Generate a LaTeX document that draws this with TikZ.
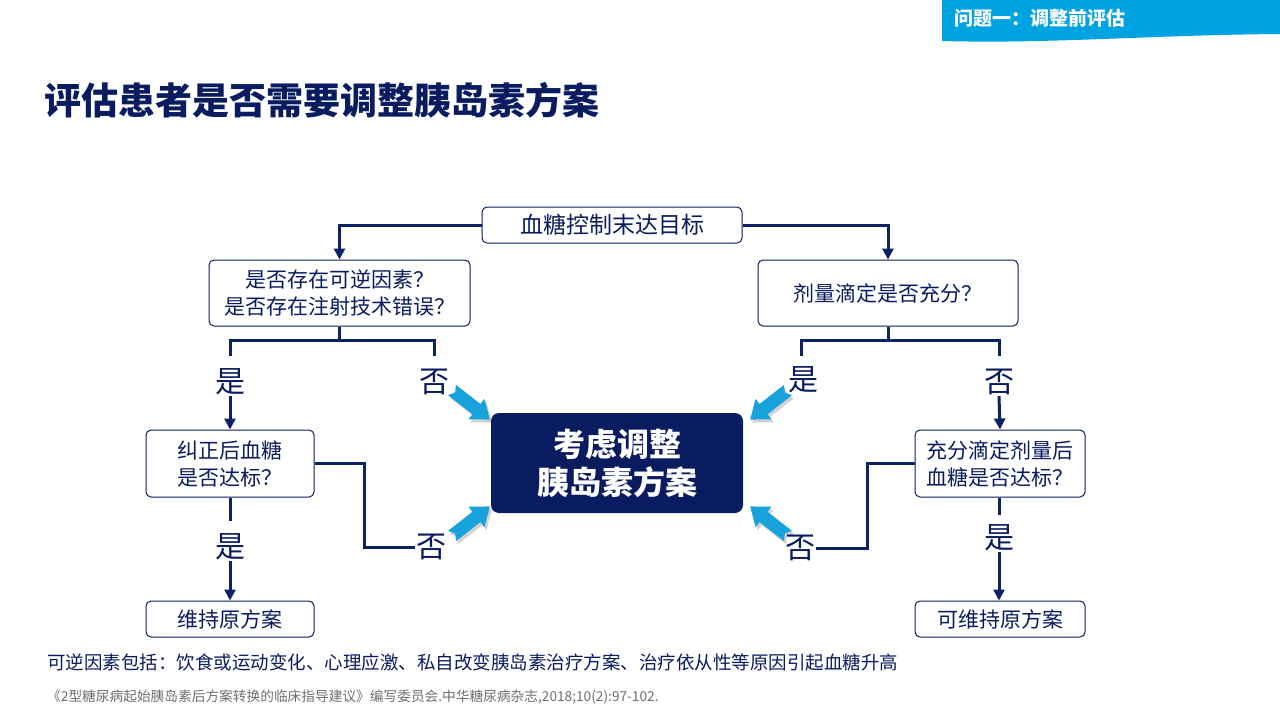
\documentclass[tikz,border=0pt]{standalone}
\usepackage{fontspec}
\setmainfont{Noto Sans CJK SC}
\usetikzlibrary{arrows.meta}
\definecolor{navy}{RGB}{10,28,96}
\definecolor{linec}{RGB}{12,34,100}
\definecolor{bannerblue}{RGB}{0,163,226}
\definecolor{arrowblue}{RGB}{24,162,220}
\definecolor{refgray}{RGB}{110,110,110}
\newcommand{\fs}[2]{\fontsize{#1}{#2}\selectfont}
\newcommand{\fatarrow}[3]{%
  \fill[black, opacity=0.18, shift={(#1+2,#2+3)}, rotate=#3]
    (0,6.5) -- (31,6.5) -- (31,13) -- (48,0) -- (31,-13) -- (31,-6.5) -- (0,-6.5) -- (4,0) -- cycle;
  \fill[arrowblue, shift={(#1,#2)}, rotate=#3]
    (0,6.5) -- (31,6.5) -- (31,13) -- (48,0) -- (31,-13) -- (31,-6.5) -- (0,-6.5) -- (4,0) -- cycle;}
\tikzset{
  box/.style={draw=navy, line width=1pt, rounded corners=5pt, fill=white, text=navy,
    align=center, inner sep=0pt, font=\fs{21}{27}},
  lbl/.style={text=navy, font=\fs{30}{30}, inner sep=1pt},
  conn/.style={draw=linec, line width=3pt},
  arr/.style={-{Triangle[width=11pt,length=11pt]}},
}
\begin{document}
\begin{tikzpicture}[x=1pt,y=-1pt]
\useasboundingbox (0,0) rectangle (1280,720);
% banner
\fill[bannerblue] (942,0) -- (1280,0) -- (1280,34) .. controls (1150,35) and (1050,44) .. (942,41) -- cycle;
\node[anchor=west, text=white, font=\fs{19}{19}\bfseries, inner sep=0pt] (banner) at (954,18) {问题一：调整前评估};
% title
\node[anchor=west, text=navy, font=\fs{37}{37}\bfseries, inner sep=0pt] (title) at (44,100) {评估患者是否需要调整胰岛素方案};
% boxes
\node[box, minimum width=260pt, minimum height=36pt, font=\fs{23}{27}] (top) at (612,225) {血糖控制末达目标};
\node[box, minimum width=261pt, minimum height=66pt] (L1) at (339.5,293) {是否存在可逆因素？\\是否存在注射技术错误？};
\node[box, minimum width=260pt, minimum height=66pt] (R1) at (888,293) {剂量滴定是否充分？};
\node[box, minimum width=168pt, minimum height=67pt] (L2) at (230,463.5) {纠正后血糖\\是否达标？};
\node[box, minimum width=170pt, minimum height=67pt] (R2) at (1000,463.5) {充分滴定剂量后\\血糖是否达标？};
\node[box, minimum width=168pt, minimum height=36pt] (L3) at (230,619) {维持原方案};
\node[box, minimum width=170pt, minimum height=36pt] (R3) at (1000,619) {可维持原方案};
\node[fill=navy, rounded corners=8pt, minimum width=252pt, minimum height=100pt, text=white,
  align=center, font=\fs{32}{38}\bfseries, inner sep=0pt] (C) at (617,463) {考虑调整\\胰岛素方案};
% labels
\node[lbl] (ly1) at (230,382) {是};
\node[lbl] (ln1) at (434,382) {否};
\node[lbl] (ry1) at (803,380) {是};
\node[lbl] (rn1) at (999,382) {否};
\node[lbl] (ly2) at (230,547) {是};
\node[lbl] (ln2) at (431,547) {否};
\node[lbl] (rn2) at (800,548) {否};
\node[lbl] (ry2) at (999,538) {是};
% connectors from top
\draw[conn, arr] (top.west) -| (L1.north);
\draw[conn, arr] (top.east) -| (R1.north);
% left split
\coordinate (lj) at (339.5,340);
\coordinate (lyT) at (230,356);
\coordinate (lnT) at (434,356);
\draw[conn] (L1.south) -- (lj);
\draw[conn] (lyT) |- (lj) -| (lnT);
% right split
\coordinate (rj) at (888,340);
\coordinate (ryT) at (801,356);
\coordinate (rnT) at (999,356);
\draw[conn] (R1.south) -- (rj);
\draw[conn] (ryT) |- (rj) -| (rnT);
% down arrows
\draw[conn, arr] (ly1.south) -- (L2.north);
\draw[conn, arr] (rn1.south) -- (R2.north);
\coordinate (ly2T) at (230,521);
\draw[conn] (L2.south) -- (ly2T);
\draw[conn, arr] (ly2.south) -- (L3.north);
\coordinate (ry2T) at (999,515);
\draw[conn] (R2.south -| ry2T) -- (ry2T);
\draw[conn, arr] (ry2.south) -- (R3.north -| ry2.south);
% side connectors
\draw[conn] (L2.east) -- ++(50,0) |- (ln2.west);
\draw[conn] (R2.west) -- ++(-47,0) |- (rn2.east);
% fat blue arrows
\fatarrow{452}{390}{-38}
\fatarrow{788}{390}{-142}
\fatarrow{452}{536}{38}
\fatarrow{788}{536}{142}
% notes
\node[anchor=west, text=navy, font=\fs{18.5}{20}, inner sep=0pt] (note) at (47,662) {可逆因素包括：饮食或运动变化、心理应激、私自改变胰岛素治疗方案、治疗依从性等原因引起血糖升高};
\node[anchor=west, text=refgray, font=\fs{13.7}{15}, inner sep=0pt] (ref) at (47,697) {《2型糖尿病起始胰岛素后方案转换的临床指导建议》编写委员会.中华糖尿病杂志,2018;10(2):97-102.};
\end{tikzpicture}
\end{document}
